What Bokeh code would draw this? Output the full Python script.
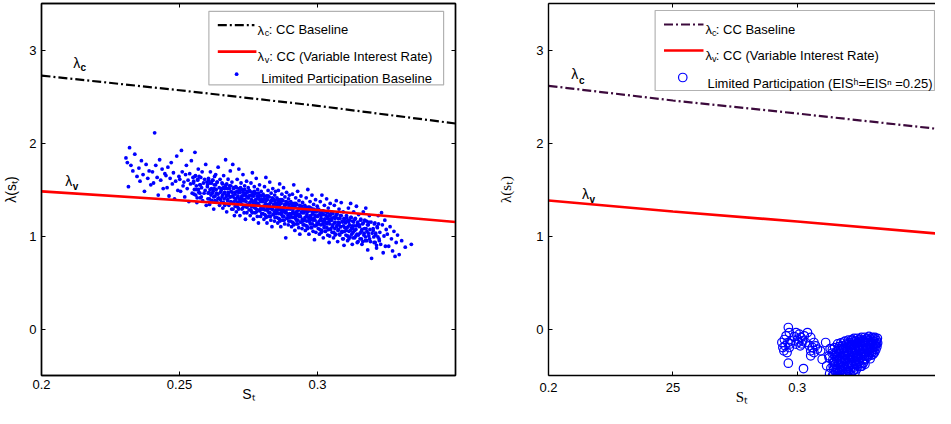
from bokeh.plotting import figure
from bokeh.models import LinearAxis, FixedTicker, BoxAnnotation, Label
from bokeh.layouts import row
from bokeh.embed import file_html
from bokeh.resources import INLINE

SANS = "Liberation Sans"
SERIF = "Liberation Serif"
BLUE = "#0000ff"
RED = "#ff0000"
BLACK = "#000000"
PURPLE = "#3c0a3c"

# ---------------- data ----------------
x_ticks = [0.2, 0.25, 0.3]
left_x_labels = ["0.2", "0.25", "0.3"]
right_x_labels = ["0.2", "25", "0.3"]
y_ticks = [0, 1, 2, 3]
y_labels = ["0", "1", "2", "3"]

# competitive-contract curves, left panel
left_curve_s = [0.20, 0.25, 0.30, 0.35]
left_lambda_c = [2.725, 2.567, 2.400, 2.210]
left_lambda_v = [1.480, 1.385, 1.280, 1.150]

# competitive-contract curves, right panel
right_curve_s = [0.20, 0.25, 0.30, 0.3587]
right_lambda_c = [2.615, 2.457, 2.317, 2.145]
right_lambda_v = [1.382, 1.263, 1.156, 1.021]

# Limited Participation Baseline (left panel scatter)
lp_s = [
    0.2306, 0.2311, 0.2315, 0.2319, 0.2324, 0.2331, 0.2338, 0.2346,
    0.2353, 0.2357, 0.2362, 0.2368, 0.2373, 0.2379, 0.2385, 0.2390, 0.2396,
    0.2402, 0.2406, 0.2410, 0.2414, 0.2419, 0.2423, 0.2428, 0.2432, 0.2437, 0.2441, 0.2447,
    0.2451, 0.2455, 0.2458, 0.2462, 0.2466, 0.2470, 0.2474, 0.2478, 0.2482, 0.2486, 0.2490, 0.2494, 0.2498,
    0.2501, 0.2504, 0.2507, 0.2510, 0.2513, 0.2516, 0.2519, 0.2522, 0.2525, 0.2528,
    0.2531, 0.2534, 0.2537, 0.2540, 0.2543, 0.2546, 0.2549,
    0.2551, 0.2553, 0.2556, 0.2558, 0.2561, 0.2563, 0.2566, 0.2568, 0.2570, 0.2573,
    0.2575, 0.2577, 0.2580, 0.2582, 0.2584, 0.2587, 0.2589, 0.2591, 0.2593, 0.2595,
    0.2597, 0.2599,
    0.2601, 0.2603, 0.2605, 0.2607, 0.2609, 0.2610, 0.2612, 0.2614, 0.2616, 0.2618,
    0.2620, 0.2622, 0.2624, 0.2626, 0.2627, 0.2629, 0.2631, 0.2633, 0.2635, 0.2637,
    0.2639, 0.2640, 0.2642, 0.2644, 0.2645, 0.2647, 0.2648, 0.2649,
    0.2651, 0.2652, 0.2654, 0.2656, 0.2657, 0.2659, 0.2660, 0.2662, 0.2664, 0.2665,
    0.2667, 0.2668, 0.2670, 0.2671, 0.2673, 0.2675, 0.2676, 0.2678, 0.2679, 0.2681,
    0.2683, 0.2684, 0.2686, 0.2687, 0.2689, 0.2690, 0.2692, 0.2693, 0.2695, 0.2696,
    0.2698, 0.2699,
    0.2701, 0.2702, 0.2704, 0.2705, 0.2706, 0.2708, 0.2709, 0.2711, 0.2712, 0.2713,
    0.2715, 0.2716, 0.2718, 0.2719, 0.2720, 0.2722, 0.2723, 0.2725, 0.2726, 0.2727,
    0.2729, 0.2730, 0.2732, 0.2733, 0.2734, 0.2736, 0.2737, 0.2739, 0.2740, 0.2741,
    0.2743, 0.2744, 0.2746, 0.2747, 0.2748, 0.2749,
    0.2751, 0.2752, 0.2753, 0.2755, 0.2756, 0.2757, 0.2759, 0.2760, 0.2761, 0.2762,
    0.2764, 0.2765, 0.2766, 0.2768, 0.2769, 0.2770, 0.2771, 0.2773, 0.2774, 0.2775,
    0.2777, 0.2778, 0.2779, 0.2781, 0.2782, 0.2783, 0.2784, 0.2786, 0.2787, 0.2788,
    0.2790, 0.2791, 0.2792, 0.2794, 0.2795, 0.2796, 0.2798, 0.2799,
    0.2801, 0.2802, 0.2803, 0.2805, 0.2806, 0.2807, 0.2808, 0.2810, 0.2811, 0.2812,
    0.2813, 0.2815, 0.2816, 0.2817, 0.2818, 0.2820, 0.2821, 0.2822, 0.2823, 0.2825,
    0.2826, 0.2827, 0.2828, 0.2830, 0.2831, 0.2832, 0.2833, 0.2835, 0.2836, 0.2837,
    0.2838, 0.2840, 0.2841, 0.2842, 0.2843, 0.2845, 0.2846, 0.2847, 0.2848, 0.2849,
    0.2851, 0.2852, 0.2853, 0.2855, 0.2856, 0.2857, 0.2858, 0.2860, 0.2861, 0.2862,
    0.2863, 0.2865, 0.2866, 0.2867, 0.2868, 0.2870, 0.2871, 0.2872, 0.2873, 0.2875,
    0.2876, 0.2877, 0.2878, 0.2880, 0.2881, 0.2882, 0.2883, 0.2885, 0.2886, 0.2887,
    0.2888, 0.2890, 0.2891, 0.2892, 0.2893, 0.2895, 0.2896, 0.2897, 0.2898, 0.2899,
    0.2901, 0.2902, 0.2903, 0.2905, 0.2906, 0.2907, 0.2909, 0.2910, 0.2911, 0.2912,
    0.2914, 0.2915, 0.2916, 0.2918, 0.2919, 0.2920, 0.2921, 0.2923, 0.2924, 0.2925,
    0.2927, 0.2928, 0.2929, 0.2931, 0.2932, 0.2933, 0.2934, 0.2936, 0.2937, 0.2938,
    0.2940, 0.2941, 0.2942, 0.2944, 0.2945, 0.2946, 0.2948, 0.2949,
    0.2951, 0.2952, 0.2954, 0.2955, 0.2956, 0.2958, 0.2959, 0.2961, 0.2962, 0.2963,
    0.2965, 0.2966, 0.2968, 0.2969, 0.2970, 0.2972, 0.2973, 0.2975, 0.2976, 0.2977,
    0.2979, 0.2980, 0.2982, 0.2983, 0.2984, 0.2986, 0.2987, 0.2989, 0.2990, 0.2991,
    0.2993, 0.2994, 0.2996, 0.2997, 0.2998, 0.2999,
    0.3001, 0.3003, 0.3004, 0.3006, 0.3007, 0.3009, 0.3010, 0.3012, 0.3013, 0.3015,
    0.3016, 0.3018, 0.3019, 0.3021, 0.3022, 0.3024, 0.3025, 0.3027, 0.3028, 0.3030,
    0.3031, 0.3033, 0.3034, 0.3036, 0.3037, 0.3039, 0.3040, 0.3042, 0.3043, 0.3045,
    0.3046, 0.3047, 0.3048, 0.3049,
    0.3051, 0.3053, 0.3054, 0.3056, 0.3058, 0.3059, 0.3061, 0.3063, 0.3064, 0.3066,
    0.3068, 0.3069, 0.3071, 0.3073, 0.3074, 0.3076, 0.3078, 0.3079, 0.3081, 0.3083,
    0.3084, 0.3086, 0.3088, 0.3089, 0.3091, 0.3093, 0.3094, 0.3096, 0.3098, 0.3099,
    0.3101, 0.3103, 0.3105, 0.3107, 0.3109, 0.3110, 0.3112, 0.3114, 0.3116, 0.3118,
    0.3120, 0.3122, 0.3124, 0.3126, 0.3127, 0.3129, 0.3131, 0.3133, 0.3135, 0.3137,
    0.3139, 0.3141, 0.3143, 0.3145, 0.3147, 0.3149,
    0.3152, 0.3154, 0.3157, 0.3159, 0.3161, 0.3163, 0.3166, 0.3168, 0.3170, 0.3173,
    0.3175, 0.3177, 0.3179, 0.3182, 0.3184, 0.3186, 0.3188, 0.3190, 0.3192, 0.3194,
    0.3196, 0.3198,
    0.3202, 0.3205, 0.3208, 0.3211, 0.3214, 0.3217, 0.3220, 0.3223, 0.3226, 0.3229,
    0.3232, 0.3235, 0.3238, 0.3241, 0.3244, 0.3246, 0.3249,
    0.3253, 0.3258, 0.3263, 0.3268, 0.3272, 0.3277, 0.3281, 0.3285, 0.3290, 0.3296,
    0.3305, 0.3318, 0.3340,
    # dense core of the cloud
    0.25515, 0.2554, 0.2556, 0.2559, 0.2561, 0.2564, 0.2566, 0.2569, 0.2571, 0.2574, 0.2576, 0.2579,
    0.26015, 0.2604, 0.2606, 0.2609, 0.2611, 0.2614, 0.2616, 0.2619, 0.2621, 0.2624, 0.2626, 0.2629,
    0.2631, 0.2634, 0.2636, 0.2639,
    0.26515, 0.2654, 0.2656, 0.2659, 0.2661, 0.2664, 0.2666, 0.2669, 0.2671, 0.2674, 0.2676,
    0.2679, 0.2681, 0.2684, 0.2686, 0.2689, 0.2691, 0.2694, 0.2696, 0.2698, 0.2677, 0.2663,
    0.27015, 0.2704, 0.2706, 0.2709, 0.2711, 0.2714, 0.2716, 0.2719, 0.2721, 0.2724, 0.2726,
    0.2729, 0.2731, 0.2734, 0.2736, 0.2739, 0.2741, 0.2744, 0.2746, 0.2748, 0.2727, 0.2713,
    0.27515, 0.2754, 0.2756, 0.2759, 0.2761, 0.2764, 0.2766, 0.2769, 0.2771, 0.2774, 0.2776,
    0.2779, 0.2781, 0.2784, 0.2786, 0.2789, 0.2791, 0.2794, 0.2796, 0.2798, 0.2777, 0.2763,
    0.28015, 0.2804, 0.2806, 0.2809, 0.2811, 0.2814, 0.2816, 0.2819, 0.2821, 0.2824, 0.2826,
    0.2829, 0.2831, 0.2834, 0.2836, 0.2839, 0.2841, 0.2844, 0.2846, 0.2848, 0.2827, 0.2813,
    0.28515, 0.2854, 0.2856, 0.2859, 0.2861, 0.2864, 0.2866, 0.2869, 0.2871, 0.2874, 0.2876,
    0.2879, 0.2881, 0.2884, 0.2886, 0.2889, 0.2891, 0.2894, 0.2896, 0.2898, 0.2877, 0.2863,
    0.29015, 0.2904, 0.2906, 0.2909, 0.2911, 0.2914, 0.2916, 0.2919, 0.2921, 0.2924, 0.2926,
    0.2929, 0.2931, 0.2934, 0.2936, 0.2939, 0.2941, 0.2944, 0.2946, 0.2948, 0.2927, 0.2913,
    0.29515, 0.2954, 0.2956, 0.2959, 0.2961, 0.2964, 0.2966, 0.2969, 0.2971, 0.2974, 0.2976,
    0.2979, 0.2981, 0.2984, 0.2986, 0.2989, 0.2991, 0.2994, 0.2996, 0.2998, 0.2977, 0.2963,
    0.30015, 0.3004, 0.3006, 0.3009, 0.3011, 0.3014, 0.3016, 0.3019, 0.3021, 0.3024, 0.3026,
    0.3029, 0.3031, 0.3034, 0.3036, 0.3039, 0.3041, 0.3044, 0.3046, 0.3048, 0.3027, 0.3013,
    0.30515, 0.3054, 0.3056, 0.3059, 0.3061, 0.3064, 0.3066, 0.3069, 0.3071, 0.3074, 0.3076,
    0.3079, 0.3081, 0.3084, 0.3086, 0.3089, 0.3091, 0.3094, 0.3096, 0.3098, 0.3077, 0.3063,
    0.31015, 0.3104, 0.3106, 0.3109, 0.3111, 0.3114, 0.3116, 0.3119, 0.3121, 0.3124, 0.3126,
    0.3129, 0.3131, 0.3134, 0.3136, 0.3139, 0.3141, 0.3144, 0.3146, 0.3148, 0.3127, 0.3113,
    0.31515, 0.3154, 0.3156, 0.3159, 0.3161, 0.3164, 0.3166, 0.3169, 0.3171, 0.3174, 0.3176,
    0.3179, 0.3181, 0.3184, 0.3186, 0.3189,
    0.32015, 0.3204, 0.3206, 0.3209, 0.3211, 0.3214, 0.3216, 0.3219, 0.3221, 0.3224,
]
lp_lambda = [
    1.84, 1.79, 1.53, 1.95, 1.76, 1.70, 1.88, 1.64,
    1.73, 1.59, 1.81, 1.66, 1.48, 1.77, 1.62, 1.70, 1.55,
    1.69, 1.57, 2.11, 1.76, 1.63, 1.44, 1.82, 1.60, 1.72, 1.51, 1.67,
    1.65, 1.52, 1.74, 1.43, 1.62, 1.79, 1.56, 1.68, 1.40, 1.59, 1.86, 1.49, 1.64,
    1.61, 1.48, 1.92, 1.69, 1.54, 1.58, 1.42, 1.66, 1.76, 1.51,
    1.60, 1.37, 1.67, 1.56, 1.81, 1.46, 1.63,
    1.57, 1.45, 1.90, 1.65, 1.50, 1.36, 1.60, 1.72, 1.47, 1.55,
    1.41, 1.63, 1.52, 1.69, 1.38, 1.57, 1.46, 1.61, 1.49, 1.77,
    1.33, 1.58,
    1.53, 1.40, 1.62, 1.47, 1.34, 1.57, 1.69, 1.44, 1.51, 1.38,
    1.60, 1.48, 1.29, 1.55, 1.64, 1.43, 1.66, 1.50, 1.37, 1.58,
    1.45, 1.74, 1.41, 1.52, 1.33, 1.61, 1.47, 1.39,
    1.49, 1.36, 1.57, 1.44, 1.30, 1.52, 1.65, 1.40, 1.47, 1.34,
    1.82, 1.55, 1.44, 1.26, 1.51, 1.39, 1.61, 1.46, 1.33, 1.54,
    1.42, 1.70, 1.37, 1.48, 1.29, 1.58, 1.43, 1.77, 1.35, 1.52,
    1.41, 1.22,
    1.45, 1.32, 1.53, 1.40, 1.26, 1.48, 1.61, 1.36, 1.43, 1.30,
    1.72, 1.51, 1.40, 1.22, 1.47, 1.35, 1.57, 1.42, 1.29, 1.50,
    1.38, 1.66, 1.33, 1.44, 1.25, 1.54, 1.39, 1.18, 1.46, 1.37,
    1.59, 1.31, 1.48, 1.41, 1.34, 1.52,
    1.41, 1.28, 1.49, 1.36, 1.22, 1.44, 1.57, 1.32, 1.39, 1.26,
    1.68, 1.47, 1.36, 1.18, 1.43, 1.31, 1.53, 1.38, 1.25, 1.46,
    1.34, 1.62, 1.29, 1.40, 1.21, 1.50, 1.35, 1.14, 1.42, 1.33,
    1.55, 1.27, 1.44, 1.37, 1.30, 1.48, 1.24, 1.39,
    1.37, 1.24, 1.45, 1.32, 1.18, 1.40, 1.53, 1.28, 1.35, 1.22,
    1.63, 1.43, 1.32, 1.14, 1.39, 1.27, 1.49, 1.34, 1.21, 1.42,
    1.30, 1.58, 1.25, 1.36, 1.17, 1.46, 1.31, 1.10, 1.38, 1.29,
    1.51, 1.23, 1.40, 1.33, 1.26, 1.44, 1.20, 1.35, 1.48, 1.28,
    1.33, 1.20, 1.41, 1.28, 1.14, 1.36, 1.49, 1.24, 1.31, 1.18,
    1.56, 1.39, 1.28, 1.10, 1.35, 1.23, 1.45, 1.30, 1.17, 1.38,
    1.26, 1.52, 1.21, 1.32, 1.13, 1.42, 1.27, 0.98, 1.34, 1.25,
    1.47, 1.19, 1.36, 1.29, 1.22, 1.40, 1.16, 1.31, 1.44, 1.24,
    1.29, 1.16, 1.37, 1.24, 1.10, 1.32, 1.45, 1.20, 1.27, 1.14,
    1.55, 1.35, 1.24, 1.06, 1.31, 1.19, 1.41, 1.26, 1.13, 1.34,
    1.22, 1.48, 1.17, 1.28, 1.09, 1.38, 1.23, 1.02, 1.30, 1.21,
    1.43, 1.15, 1.32, 1.25, 1.18, 1.36, 1.12, 1.27,
    1.25, 1.12, 1.33, 1.20, 1.06, 1.28, 1.41, 1.16, 1.23, 1.10,
    1.50, 1.31, 1.20, 1.02, 1.27, 1.15, 1.37, 1.22, 1.09, 1.30,
    1.18, 1.44, 1.13, 1.24, 1.05, 1.34, 1.19, 0.96, 1.26, 1.17,
    1.39, 1.11, 1.28, 1.21, 1.14, 1.32,
    1.21, 1.08, 1.29, 1.16, 1.02, 1.24, 1.37, 1.12, 1.19, 1.06,
    1.44, 1.27, 1.16, 0.98, 1.23, 1.11, 1.33, 1.18, 1.05, 1.26,
    1.14, 1.40, 1.09, 1.20, 1.01, 1.30, 1.15, 0.93, 1.22, 1.13,
    1.35, 1.07, 1.24, 1.17,
    1.17, 1.04, 1.25, 1.12, 0.98, 1.20, 1.33, 1.08, 1.15, 1.02,
    1.38, 1.23, 1.12, 0.94, 1.19, 1.07, 1.29, 1.14, 1.01, 1.22,
    1.10, 1.36, 1.05, 1.16, 0.97, 1.26, 1.11, 0.90, 1.18, 1.09,
    1.14, 1.01, 1.22, 1.09, 0.95, 1.17, 1.30, 1.05, 1.12, 0.99,
    1.35, 1.20, 1.09, 0.91, 1.16, 1.04, 1.26, 1.11, 0.98, 1.19,
    1.07, 1.32, 1.02, 1.13, 0.94, 1.23,
    1.10, 0.97, 1.18, 1.05, 0.91, 1.13, 1.26, 1.01, 1.08, 0.95,
    1.30, 1.16, 1.05, 0.85, 1.12, 1.00, 1.22, 1.07, 0.94, 1.15,
    0.76, 1.03,
    1.06, 0.93, 1.14, 1.01, 0.87, 1.09, 1.22, 0.97, 1.04, 0.91,
    1.25, 1.12, 0.82, 1.00, 1.17, 0.89, 1.07,
    1.02, 0.89, 1.10, 0.97, 0.84, 1.05, 0.78, 0.93, 1.01, 0.80,
    0.95, 0.88, 0.91,
    # dense core of the cloud
    1.59, 1.50, 1.64, 1.44, 1.54, 1.41, 1.61, 1.50, 1.64, 1.46, 1.55, 1.42,
    1.55, 1.46, 1.60, 1.40, 1.50, 1.37, 1.57, 1.46, 1.60, 1.42, 1.51, 1.38,
    1.55, 1.46, 1.58, 1.40,
    1.51, 1.42, 1.56, 1.36, 1.46, 1.33, 1.53, 1.42, 1.56, 1.38, 1.47,
    1.34, 1.51, 1.42, 1.54, 1.36, 1.47, 1.29, 1.51, 1.37, 1.44, 1.51,
    1.47, 1.38, 1.52, 1.32, 1.42, 1.29, 1.49, 1.38, 1.52, 1.34, 1.43,
    1.30, 1.47, 1.38, 1.50, 1.32, 1.43, 1.25, 1.47, 1.33, 1.40, 1.47,
    1.43, 1.34, 1.48, 1.28, 1.38, 1.25, 1.45, 1.34, 1.48, 1.30, 1.39,
    1.26, 1.43, 1.34, 1.46, 1.28, 1.39, 1.21, 1.43, 1.29, 1.36, 1.43,
    1.38, 1.29, 1.43, 1.23, 1.33, 1.20, 1.40, 1.29, 1.43, 1.25, 1.34,
    1.21, 1.38, 1.29, 1.41, 1.23, 1.34, 1.16, 1.38, 1.24, 1.31, 1.38,
    1.34, 1.25, 1.39, 1.19, 1.29, 1.16, 1.36, 1.25, 1.39, 1.21, 1.30,
    1.17, 1.34, 1.25, 1.37, 1.19, 1.30, 1.12, 1.34, 1.20, 1.27, 1.34,
    1.30, 1.21, 1.35, 1.15, 1.25, 1.12, 1.32, 1.21, 1.35, 1.17, 1.26,
    1.13, 1.30, 1.21, 1.33, 1.15, 1.26, 1.08, 1.30, 1.16, 1.23, 1.30,
    1.26, 1.17, 1.31, 1.11, 1.21, 1.08, 1.28, 1.17, 1.31, 1.13, 1.22,
    1.09, 1.26, 1.17, 1.29, 1.11, 1.22, 1.04, 1.26, 1.12, 1.19, 1.26,
    1.22, 1.13, 1.27, 1.07, 1.17, 1.04, 1.24, 1.13, 1.27, 1.09, 1.18,
    1.05, 1.22, 1.13, 1.25, 1.07, 1.18, 1.00, 1.22, 1.08, 1.15, 1.22,
    1.19, 1.10, 1.24, 1.04, 1.14, 1.01, 1.21, 1.10, 1.24, 1.06, 1.15,
    1.02, 1.19, 1.10, 1.22, 1.04, 1.15, 0.97, 1.19, 1.05, 1.12, 1.19,
    1.15, 1.06, 1.20, 1.00, 1.10, 0.97, 1.17, 1.06, 1.20, 1.02, 1.11,
    0.98, 1.15, 1.06, 1.18, 1.00, 1.11, 0.93, 1.15, 1.01, 1.08, 1.15,
    1.12, 1.03, 1.17, 0.97, 1.07, 0.94, 1.14, 1.03, 1.17, 0.99, 1.08,
    0.95, 1.12, 1.03, 1.15, 0.97,
    1.08, 0.99, 1.13, 0.93, 1.03, 0.90, 1.10, 0.99, 1.13, 0.95,
]

# Limited Participation (EIS^h = EIS^n = 0.25), right panel scatter
lp25_s = [
    0.2964, 0.2968, 0.2948, 0.2938, 0.2962, 0.2951, 0.2968, 0.2946, 0.2959, 0.2975,
    0.2955, 0.2964, 0.2995, 0.3008, 0.2988, 0.3015, 0.3001, 0.3028, 0.3021, 0.2995,
    0.3012, 0.3034, 0.3041, 0.3054, 0.3067, 0.3048, 0.3061, 0.3074, 0.3054, 0.3067,
    0.3054, 0.3081, 0.3025, 0.3114, 0.3100, 0.3118, 0.3094, 0.3127, 0.2972, 0.2942,
    0.3005, 0.3018,
    0.3141, 0.3148, 0.3143, 0.3152, 0.3146, 0.3155, 0.3142, 0.3157, 0.3150, 0.3144,
    0.3156, 0.3149, 0.3153, 0.3140, 0.3158,
    0.3162, 0.3168, 0.3175, 0.3181, 0.3187, 0.3165, 0.3172, 0.3179, 0.3185, 0.3163,
    0.3170, 0.3177, 0.3184, 0.3189, 0.3166, 0.3173, 0.3180, 0.3187, 0.3161, 0.3169,
    0.3176, 0.3183, 0.3188, 0.3164, 0.3178, 0.3171,
    0.3192, 0.3198, 0.3205, 0.3211, 0.3217, 0.3195, 0.3202, 0.3209, 0.3215, 0.3219,
    0.3193, 0.3200, 0.3207, 0.3214, 0.3196, 0.3203, 0.3210, 0.3217, 0.3191, 0.3199,
    0.3206, 0.3213, 0.3194, 0.3201, 0.3208, 0.3216,
    0.3222, 0.3228, 0.3235, 0.3241, 0.3247, 0.3224, 0.3231, 0.3238, 0.3244, 0.3223,
    0.3230, 0.3237, 0.3243, 0.3248, 0.3226, 0.3233, 0.3240, 0.3246, 0.3221, 0.3229,
    0.3236, 0.3242, 0.3225, 0.3232, 0.3239,
    0.3252, 0.3258, 0.3265, 0.3271, 0.3277, 0.3254, 0.3261, 0.3268, 0.3274, 0.3253,
    0.3260, 0.3267, 0.3273, 0.3278, 0.3256, 0.3263, 0.3270, 0.3276, 0.3251, 0.3259,
    0.3266, 0.3272,
    0.3282, 0.3288, 0.3295, 0.3301, 0.3307, 0.3284, 0.3291, 0.3298, 0.3304, 0.3283,
    0.3290, 0.3297, 0.3303, 0.3308, 0.3286, 0.3293, 0.3300, 0.3306,
    0.3312, 0.3318, 0.3322, 0.3314, 0.3320, 0.3316, 0.3311, 0.3323,
    0.3132, 0.3128, 0.3135, 0.3130,
    0.3145, 0.3151, 0.3147, 0.3159, 0.3167, 0.3174, 0.3182, 0.3186, 0.3160, 0.3171,
    0.3190, 0.3197, 0.3204, 0.3212, 0.3218, 0.3197, 0.3205, 0.3212, 0.3220, 0.3201,
    0.3227, 0.3234, 0.3245, 0.3227, 0.3238, 0.3244, 0.3250, 0.3228, 0.3235, 0.3249,
    0.3256, 0.3263, 0.3269, 0.3275, 0.3257, 0.3264, 0.3279, 0.3262, 0.3270, 0.3255,
    0.3285, 0.3292, 0.3299, 0.3305, 0.3289, 0.3296, 0.3309, 0.3302, 0.3313, 0.3319,
]
lp25_lambda = [
    0.016, -0.038, -0.113, -0.145, -0.145, -0.181, -0.199, -0.235, -0.253, -0.127,
    -0.073, -0.368, -0.038, -0.056, -0.081, -0.091, -0.109, -0.073, -0.127, -0.163,
    -0.181, -0.145, -0.038, -0.091, -0.145, -0.181, -0.199, -0.181, -0.235, -0.253,
    -0.288, -0.217, -0.425, -0.145, -0.325, -0.396, -0.235, -0.288, -0.160, -0.200,
    -0.140, -0.160,
    -0.22, -0.27, -0.33, -0.38, -0.43, -0.47, -0.50, -0.30, -0.20, -0.40,
    -0.52, -0.35, -0.45, -0.26, -0.24,
    -0.16, -0.19, -0.15, -0.18, -0.14, -0.23, -0.26, -0.22, -0.25, -0.30,
    -0.33, -0.29, -0.32, -0.28, -0.37, -0.40, -0.36, -0.39, -0.44, -0.47,
    -0.43, -0.46, -0.49, -0.51, -0.50, -0.53,
    -0.13, -0.16, -0.12, -0.15, -0.12, -0.20, -0.23, -0.19, -0.22, -0.18,
    -0.27, -0.30, -0.26, -0.29, -0.34, -0.37, -0.33, -0.36, -0.41, -0.44,
    -0.40, -0.43, -0.48, -0.51, -0.47, -0.50,
    -0.12, -0.10, -0.13, -0.10, -0.12, -0.17, -0.20, -0.16, -0.19, -0.24,
    -0.27, -0.23, -0.26, -0.22, -0.31, -0.34, -0.30, -0.33, -0.38, -0.41,
    -0.37, -0.40, -0.45, -0.47, -0.43,
    -0.11, -0.09, -0.12, -0.09, -0.11, -0.16, -0.19, -0.15, -0.18, -0.23,
    -0.26, -0.22, -0.25, -0.21, -0.30, -0.33, -0.29, -0.32, -0.37, -0.40,
    -0.36, -0.38,
    -0.10, -0.08, -0.11, -0.09, -0.10, -0.15, -0.18, -0.14, -0.17, -0.22,
    -0.25, -0.21, -0.24, -0.20, -0.29, -0.32, -0.28, -0.27,
    -0.09, -0.12, -0.10, -0.16, -0.19, -0.22, -0.25, -0.15,
    -0.21, -0.31, -0.42, -0.48,
    -0.36, -0.29, -0.49, -0.42, -0.21, -0.35, -0.41, -0.21, -0.34, -0.44,
    -0.33, -0.24, -0.28, -0.38, -0.25, -0.46, -0.45, -0.17, -0.31, -0.17,
    -0.14, -0.22, -0.29, -0.35, -0.39, -0.15, -0.18, -0.44, -0.30, -0.35,
    -0.13, -0.21, -0.26, -0.14, -0.27, -0.37, -0.28, -0.15, -0.33, -0.40,
    -0.12, -0.22, -0.25, -0.13, -0.27, -0.17, -0.16, -0.20, -0.19, -0.16,
]

legend_left = ["CC Baseline", "CC (Variable Interest Rate)", "Limited Participation Baseline"]
legend_right = ["CC Baseline", "CC (Variable Interest Rate)",
                "Limited Participation (EIS\u02b0=EIS\u207f =0.25)"]

# ---------------- helpers ----------------
H = 408


def left_pos(px, py):
    # annotation placement: reference pixel -> left panel data coordinates
    return 0.2 + (px - 45) / 2786.7, 3.5 - (py - 8) / 94.75


def right_pos(px, py):
    return 0.2 + (px - 551) / 2520.0, 3.5 - (py - 11) / 93.0


def style_axis(ax, ticks, labels, show, font=SANS, standoff=5):
    ax.ticker = FixedTicker(ticks=ticks)
    ax.major_tick_in = 4
    ax.major_tick_out = 0
    ax.minor_tick_line_color = None
    ax.major_tick_line_color = BLACK
    ax.major_tick_line_width = 1
    ax.axis_line_color = BLACK
    ax.axis_line_width = 1.4
    ax.major_label_text_font = font
    if show:
        ax.major_label_overrides = {t: l for t, l in zip(ticks, labels)}
        ax.major_label_text_color = BLACK
        ax.major_label_text_font_size = "13px"
        ax.major_label_standoff = standoff
    else:
        ax.major_label_text_color = None
        ax.major_label_text_alpha = 0
        ax.major_label_text_font_size = "0px"
        ax.major_label_standoff = 0


def set_title(ax, text, font, size, standoff):
    ax.axis_label = text
    ax.axis_label_text_font = font
    ax.axis_label_text_font_size = size
    ax.axis_label_text_font_style = "normal"
    ax.axis_label_text_color = BLACK
    ax.axis_label_standoff = standoff


def add_text(p, pos, text, size="13px", style="normal", font=SANS, color=BLACK):
    p.add_layout(Label(x=pos[0], y=pos[1], text=text, text_font=font,
                       text_font_size=size, text_font_style=style,
                       text_color=color, text_align="left",
                       text_baseline="alphabetic"))


def base_fig(width, xr, ml, mr, mt, mb):
    p = figure(width=width, height=H, x_range=xr, y_range=(-0.5, 3.5),
               output_backend="svg", toolbar_location=None, tools="")
    p.min_border_left = ml
    p.min_border_right = mr
    p.min_border_top = mt
    p.min_border_bottom = mb
    p.grid.visible = False
    p.background_fill_color = "white"
    p.border_fill_color = "white"
    return p


# ---------------- left panel ----------------
p1 = base_fig(495, (0.2, 0.35), 37, 40, 0, 29)
p1.outline_line_color = BLACK
p1.outline_line_width = 1.4
style_axis(p1.xaxis[0], x_ticks, left_x_labels, True, standoff=4)
style_axis(p1.yaxis[0], y_ticks, y_labels, True, standoff=5)
set_title(p1.xaxis[0], "S\u209c", SANS, "14px", -6)
set_title(p1.yaxis[0], "\u03bb(s\u209c)", SANS, "14px", 7)
top1 = LinearAxis()
style_axis(top1, x_ticks, left_x_labels, False)
p1.add_layout(top1, "above")
right1 = LinearAxis()
style_axis(right1, y_ticks, y_labels, False)
p1.add_layout(right1, "right")

p1.scatter(lp_s, lp_lambda, marker="circle", size=3.8, fill_color=BLUE,
           line_color=None)
p1.line(left_curve_s, left_lambda_c, line_color=BLACK, line_width=2.2,
        line_dash="9 3 2 3")
p1.line(left_curve_s, left_lambda_v, line_color=RED, line_width=2.6)

# curve labels
add_text(p1, left_pos(77, 69), "\u03bb", size="14px")
add_text(p1, left_pos(84.5, 73), "c", size="10px", style="bold")
add_text(p1, left_pos(69, 189), "\u03bb", size="14px")
add_text(p1, left_pos(76.5, 194), "v", size="10px", style="bold")

# legend
bl, bt = left_pos(214, 16)
br, bb = left_pos(451, 91)
p1.add_layout(BoxAnnotation(left=bl, right=br, top=bt, bottom=bb,
                            fill_color="white", fill_alpha=1.0,
                            line_color=BLACK, line_width=1.2, level="underlay"))
a = left_pos(223, 30)
b = left_pos(260, 30)
p1.line([a[0], b[0]], [a[1], b[1]], line_color=BLACK, line_width=2.2,
        line_dash="9 3 2 3")
add_text(p1, left_pos(263, 35), "\u03bb")
add_text(p1, left_pos(270.5, 38.5), "c", size="9px")
add_text(p1, left_pos(274.5, 34.5), ": " + legend_left[0])
a = left_pos(223, 57)
b = left_pos(262, 57)
p1.line([a[0], b[0]], [a[1], b[1]], line_color=RED, line_width=2.6)
add_text(p1, left_pos(263, 62), "\u03bb")
add_text(p1, left_pos(270.5, 65.5), "v", size="9px")
add_text(p1, left_pos(275, 61.5), ": " + legend_left[1])
m = left_pos(242, 80)
p1.scatter([m[0]], [m[1]], marker="circle", size=3.8, fill_color=BLUE,
           line_color=None)
add_text(p1, left_pos(267, 84), legend_left[2])

# ---------------- right panel ----------------
p2 = base_fig(440, (0.2, 0.2 + 392 / 2520.0), 48, 0, 3, 33)
p2.outline_line_color = None
style_axis(p2.xaxis[0], x_ticks, right_x_labels, True, standoff=7)
style_axis(p2.yaxis[0], y_ticks, y_labels, True, standoff=5)
set_title(p2.xaxis[0], "S\u209c", SERIF, "15px", -6)
set_title(p2.yaxis[0], "\u03bb(s\u209c)", SERIF, "15px", 19)
top2 = LinearAxis()
style_axis(top2, x_ticks, right_x_labels, False)
p2.add_layout(top2, "above")

p2.scatter(lp25_s, lp25_lambda, marker="circle", size=8.5, fill_color=None,
           line_color=BLUE, line_width=1.2)
p2.line(right_curve_s, right_lambda_c, line_color=PURPLE, line_width=2.2,
        line_dash="9 3 2 3")
p2.line(right_curve_s, right_lambda_v, line_color=RED, line_width=2.6)

add_text(p2, right_pos(574, 81), "\u03bb", size="14px")
add_text(p2, right_pos(582, 87.5), "c", size="10px", style="bold")
add_text(p2, right_pos(585, 201), "\u03bb", size="14px")
add_text(p2, right_pos(592.5, 207), "v", size="10px", style="bold")

bl, bt = right_pos(659, 18)
br, bb = right_pos(942, 98)
p2.add_layout(BoxAnnotation(left=bl, right=br, top=bt, bottom=bb,
                            fill_color="white", fill_alpha=1.0,
                            line_color=BLACK, line_width=1.2, level="underlay"))
a = right_pos(668, 32)
b = right_pos(708, 32)
p2.line([a[0], b[0]], [a[1], b[1]], line_color=PURPLE, line_width=2.2,
        line_dash="9 3 2 3")
add_text(p2, right_pos(710, 37), "\u03bb")
add_text(p2, right_pos(716.5, 40.5), "c", size="9px")
add_text(p2, right_pos(720.5, 36.5), ": " + legend_right[0])
a = right_pos(668, 58)
b = right_pos(708, 58)
p2.line([a[0], b[0]], [a[1], b[1]], line_color=RED, line_width=2.6)
add_text(p2, right_pos(710, 63), "\u03bb")
add_text(p2, right_pos(716.5, 66.5), "v", size="9px")
add_text(p2, right_pos(720.5, 62.5), ": " + legend_right[1])
m = right_pos(687, 85)
p2.scatter([m[0]], [m[1]], marker="circle", size=8.5, fill_color=None,
           line_color=BLUE, line_width=1.2)
add_text(p2, right_pos(712, 90.5), legend_right[2])

layout = row(p1, p2)
open("out.html", "w").write(file_html(layout, INLINE))
